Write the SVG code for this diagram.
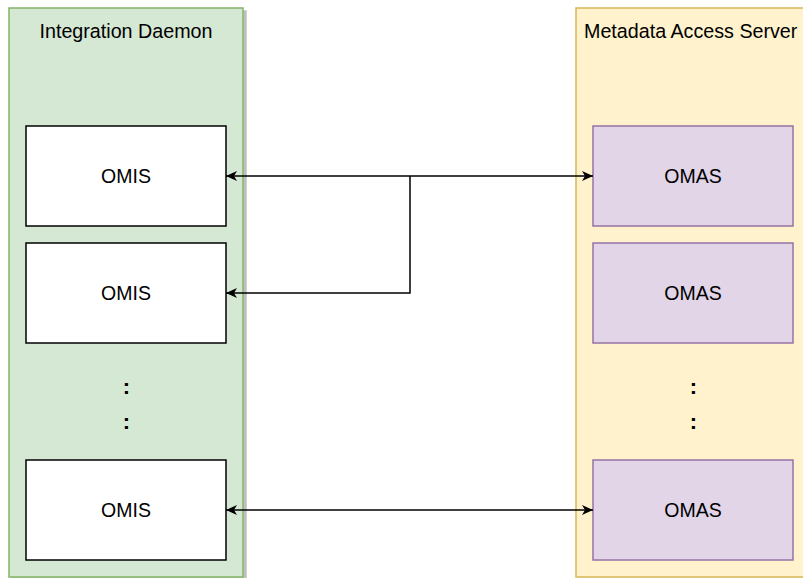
<svg xmlns="http://www.w3.org/2000/svg" width="803" height="578" viewBox="0 0 803 578">
  <defs>
    <marker id="arrow" viewBox="0 0 11 10" refX="11" refY="5" markerWidth="11" markerHeight="10" markerUnits="userSpaceOnUse" orient="auto-start-reverse">
      <path d="M0,0 L11,5 L0,10 L3,5 Z" fill="#000"/>
    </marker>
    <filter id="shadow" x="-5%" y="-5%" width="115%" height="115%">
      <feOffset dx="3" dy="3" in="SourceAlpha" result="off"/>
      <feFlood flood-color="#000" flood-opacity="0.25"/>
      <feComposite in2="off" operator="in"/>
      <feMerge><feMergeNode/><feMergeNode in="SourceGraphic"/></feMerge>
    </filter>
  </defs>
  <style>
    text { font-family: "Liberation Sans", Arial, Helvetica, sans-serif; fill: #000; }
    .title { font-size: 19.7px; }
    .label { font-size: 19.5px; text-anchor: middle; }
    .dots { font-size: 22px; font-weight: bold; text-anchor: middle; }
    .daemon { fill: #d5e8d4; stroke: #82b366; stroke-width: 1.5; }
    .server { fill: #fff2cc; stroke: #d6b656; stroke-width: 1.5; }
    .omis { fill: #ffffff; stroke: #000000; stroke-width: 1.5; }
    .omas { fill: #e1d5e7; stroke: #9673a6; stroke-width: 1.5; }
    .edge { fill: none; stroke: #000; stroke-width: 1.5; }
  </style>
  <rect width="803" height="578" fill="#ffffff"/>

  <g id="integration-daemon">
    <rect class="daemon" x="9" y="8" width="234" height="569" filter="url(#shadow)"/>
    <text class="title" x="126" y="38" text-anchor="middle">Integration Daemon</text>
  </g>

  <g id="metadata-access-server">
    <rect class="server" x="576" y="8" width="240" height="569"/>
    <text class="title" x="584" y="38">Metadata Access Server</text>
  </g>

  <g id="omis-1">
    <rect class="omis" x="26" y="126" width="200" height="100"/>
    <text class="label" x="126" y="183">OMIS</text>
  </g>
  <g id="omis-2">
    <rect class="omis" x="26" y="243" width="200" height="100"/>
    <text class="label" x="126" y="300">OMIS</text>
  </g>
  <g id="omis-ellipsis">
    <text class="dots" x="126.5" y="394">:</text>
    <text class="dots" x="126.5" y="429">:</text>
  </g>
  <g id="omis-3">
    <rect class="omis" x="26" y="460" width="200" height="100"/>
    <text class="label" x="126" y="517">OMIS</text>
  </g>

  <g id="omas-1">
    <rect class="omas" x="593" y="126" width="200" height="100"/>
    <text class="label" x="693" y="183">OMAS</text>
  </g>
  <g id="omas-2">
    <rect class="omas" x="593" y="243" width="200" height="100"/>
    <text class="label" x="693" y="300">OMAS</text>
  </g>
  <g id="omas-ellipsis">
    <text class="dots" x="693.5" y="394">:</text>
    <text class="dots" x="693.5" y="429">:</text>
  </g>
  <g id="omas-3">
    <rect class="omas" x="593" y="460" width="200" height="100"/>
    <text class="label" x="693" y="517">OMAS</text>
  </g>

  <g id="connectors">
    <path class="edge" d="M226,176 L593,176" marker-start="url(#arrow)" marker-end="url(#arrow)"/>
    <path class="edge" d="M410,176 L410,293 L226,293" marker-end="url(#arrow)"/>
    <path class="edge" d="M226,510 L593,510" marker-start="url(#arrow)" marker-end="url(#arrow)"/>
  </g>
</svg>
